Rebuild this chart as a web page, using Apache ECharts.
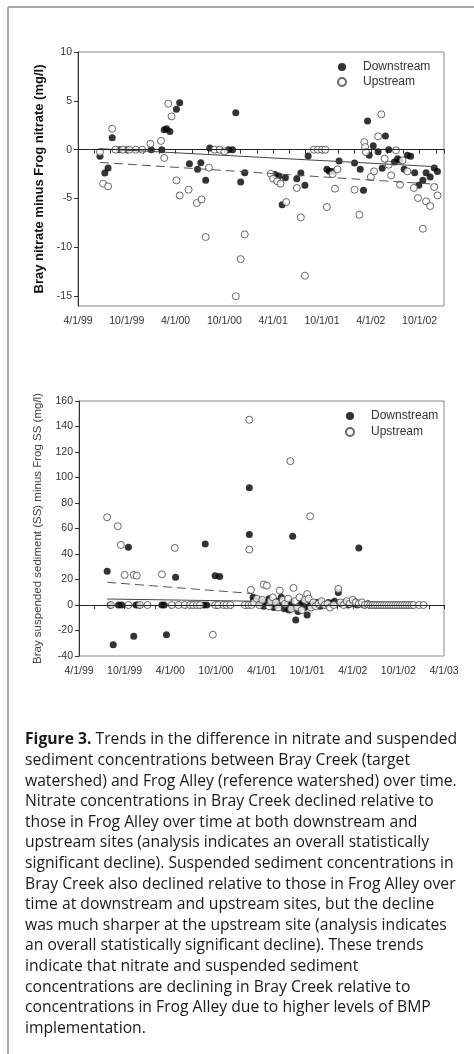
<!DOCTYPE html>
<html><head><meta charset="utf-8">
<script src="https://cdn.jsdelivr.net/npm/echarts@6/dist/echarts.min.js"></script>
<style>html,body{margin:0;padding:0;background:#fff}#c{width:474px;height:1054px}</style>
</head><body><div id="c"></div>
<script>
// x values are months since 4/1/99
const xTickLabels1 = ['4/1/99','10/1/99','4/1/00','10/1/00','4/1/01','10/1/01','4/1/02','10/1/02'];
const xTickLabels2 = ['4/1/99','10/1/99','4/1/00','10/1/00','4/1/01','10/1/01','4/1/02','10/1/02','4/1/03'];
const yTicks1 = [-15,-10,-5,0,5,10];

const nitrateDown = [[2.7,-0.68],[3.3,-2.39],[3.7,-1.88],[4.2,1.22],[5.1,0],[6.0,0],[9.0,0],[10.3,0],[10.6,2.05],[10.9,2.15],[11.3,1.85],[12.1,4.13],[12.5,4.81],[13.7,-1.43],[14.7,-2.01],[15.1,-1.33],[15.7,-3.14],[16.2,0.17],[18.5,0],[19.0,0],[19.4,3.79],[20.0,-3.31],[20.5,-2.35],[24.2,-2.53],[24.7,-2.7],[25.1,-5.63],[25.5,-2.87],[26.9,-2.97],[27.4,-2.39],[27.9,-3.65],[28.3,-0.65],[30.6,-2.01],[30.9,-2.2],[31.2,-2.22],[32.1,-1.16],[34.0,-1.37],[34.7,-2.01],[35.1,-4.16],[35.6,2.94],[35.8,-0.58],[36.3,0.4],[36.9,-0.2],[37.4,-1.9],[37.8,1.4],[38.2,0],[38.9,-1.26],[39.3,-0.92],[39.6,-1.09],[40.1,-2.01],[40.5,-0.58],[40.9,-0.68],[41.4,-2.35],[41.9,-3.65],[42.4,-3.14],[42.8,-2.35],[43.3,-2.8],[43.8,-1.88],[44.2,-2.22]];
const nitrateUp = [[2.7,-0.24],[3.1,-3.48],[3.7,-3.75],[4.2,2.15],[4.6,0],[5.5,0],[6.3,0],[7.1,0],[7.9,0],[8.9,0.61],[10.2,0.9],[10.6,-0.85],[11.1,4.71],[11.5,3.41],[12.1,-3.14],[12.5,-4.68],[13.6,-4.1],[14.6,-5.46],[15.2,-5.09],[15.7,-8.94],[16.1,-1.84],[16.8,0],[17.4,0],[18.0,-0.17],[19.4,-15.0],[20.0,-11.2],[20.5,-8.67],[23.7,-2.46],[24.0,-2.97],[24.5,-3.24],[24.9,-3.48],[25.6,-5.36],[26.9,-3.92],[27.4,-6.93],[27.9,-12.9],[29.0,0],[29.5,0],[30.0,0],[30.4,0],[30.6,-5.87],[31.3,-2.5],[31.6,-3.99],[31.9,-2.01],[34.0,-4.1],[34.6,-6.66],[35.2,0.78],[35.3,0.27],[35.4,-0.24],[36.0,-2.8],[36.4,-2.22],[36.9,1.37],[37.3,3.62],[37.7,-0.92],[38.2,-1.54],[38.5,-2.63],[39.1,-0.07],[39.6,-3.58],[39.9,-1.09],[40.5,-2.22],[41.3,-3.92],[41.8,-4.95],[42.4,-8.09],[42.8,-5.29],[43.3,-5.77],[43.8,-3.82],[44.2,-4.68]];
const nitrateTrendDown = [[2.7,0.1],[44.2,-1.75]];
const nitrateTrendUp = [[2.7,-1.3],[44.2,-3.55]];

const ssDown = [[3.7,26.4],[4.1,0],[4.5,-31.2],[5.2,0],[5.6,0],[6.5,45.3],[7.2,-24.6],[7.5,0],[7.8,0],[10.9,0],[11.2,0],[11.5,-23.3],[12.7,21.7],[16.4,0],[16.6,47.9],[16.8,0],[17.9,23.0],[18.5,22.3],[22.4,91.9],[22.4,55.2],[22.9,6.0],[23.0,3.5],[23.2,2],[23.5,4],[23.8,1],[24.0,3],[24.3,-1],[24.6,2],[25.0,5],[25.3,1],[25.6,-2],[26.0,3],[26.3,0],[26.6,6],[27.0,-3],[27.3,1],[27.6,-4],[27.9,2],[28.1,53.9],[28.2,-2],[28.5,-11.8],[28.8,-5],[29.1,0],[29.4,3],[29.7,-2],[30.0,-7.9],[30.3,-1],[30.6,1],[31.0,0],[31.3,2],[31.7,-1],[32.0,1],[32.4,0],[32.8,2],[33.2,1],[33.6,3],[34.1,9.9],[34.5,1],[35.0,2],[35.4,0],[35.8,1],[36.2,3],[36.6,0],[36.8,44.8],[37.0,1],[37.5,0],[38.0,1],[38.5,0],[39.0,0],[39.6,0]];
const ssUp = [[3.7,68.8],[4.2,0],[5.1,61.8],[5.5,47.1],[6.0,23.6],[6.5,0],[7.2,23.6],[7.6,23.0],[8.0,0],[9.0,0],[10.9,24.1],[12.2,0],[12.6,44.8],[13.1,0],[13.9,0],[14.6,0],[15.0,0],[15.5,0],[15.9,0],[17.6,-23.3],[17.9,0],[18.3,0],[19.0,0],[19.4,0],[19.9,0],[21.8,0],[22.3,0],[22.4,145.3],[22.4,43.5],[22.6,11.8],[22.7,0],[23.0,2],[23.4,5],[23.7,0],[24.1,4],[24.3,16],[24.7,15.2],[25.0,-1],[25.2,3],[25.5,6],[25.9,2],[26.2,-2],[26.4,11.3],[26.8,4],[27.1,1],[27.5,5],[27.8,112.8],[27.9,-3],[28.2,13.4],[28.4,3],[28.7,-2],[29.0,6],[29.3,-4],[29.7,4],[30.0,8.6],[30.2,5],[30.4,69.6],[30.5,-2],[30.8,2],[31.1,-1],[31.5,1],[31.9,3],[32.3,0],[32.7,1],[33.0,-2],[33.5,0],[34.1,12.6],[34.4,2],[34.8,0],[35.2,3],[35.6,1],[36.0,4],[36.4,2],[36.8,1],[37.2,2],[37.6,0],[38.0,0.5],[38.3,0],[38.6,0],[38.9,0],[39.2,0],[39.5,0],[39.8,0],[40.1,0],[40.4,0],[40.7,0],[41.0,0],[41.3,0],[41.6,0],[41.9,0],[42.2,0],[42.5,0],[42.8,0],[43.1,0],[43.4,0],[43.7,0],[44.0,0],[44.7,0],[45.3,0]];
const ssTrendDown = [[3.7,4.7],[22.8,3.0]];
const ssTrendUp = [[3.7,17.8],[22.8,9.0]];

const captionLines = [
 '{b|Figure 3.} Trends in the difference in nitrate and suspended',
 'sediment concentrations between Bray Creek (target',
 'watershed) and Frog Alley (reference watershed) over time.',
 'Nitrate concentrations in Bray Creek declined relative to',
 'those in Frog Alley over time at both downstream and',
 'upstream sites (analysis indicates an overall statistically',
 'significant decline). Suspended sediment concentrations in',
 'Bray Creek also declined relative to those in Frog Alley over',
 'time at downstream and upstream sites, but the decline',
 'was much sharper at the upstream site (analysis indicates',
 'an overall statistically significant decline). These trends',
 'indicate that nitrate and suspended sediment',
 'concentrations are declining in Bray Creek relative to',
 'concentrations in Frog Alley due to higher levels of BMP',
 'implementation.'
];

const FONT = 'Liberation Sans, Arial, sans-serif';
const CAPFONT = 'Open Sans, sans-serif';
const CAPSIZE = 15.7;
const tickLbl = {fontFamily: FONT, fontSize: 10.5, color: '#333'};

function xAxisCfg(gi, max, labels){
  return {type:'value', gridIndex:gi, min:0, max:max, interval:2,
    axisLine:{lineStyle:{color:'#333', width:1}},
    axisTick:{length:4, lineStyle:{color:'#333'}},
    splitLine:{show:false},
    axisLabel:Object.assign({margin:10, formatter:v => (v % 6 === 0 ? (labels[v/6] || '') : '')}, tickLbl)};
}
const downStyle = {color:'#000', borderColor:'#000', borderWidth:0};
const upStyle = {color:'#fff', borderColor:'#444', borderWidth:1};

const chart = echarts.init(document.getElementById('c'), null, {renderer:'canvas'});
chart.setOption({
  animation:false,
  backgroundColor:'#fff',
  grid:[
    {left:78, top:52, width:366, height:254, show:true, borderColor:'#888', borderWidth:1, backgroundColor:'transparent'},
    {left:79, top:401, width:365, height:255, show:true, borderColor:'#888', borderWidth:1, backgroundColor:'transparent'}
  ],
  xAxis:[xAxisCfg(0,45,xTickLabels1), xAxisCfg(1,48,xTickLabels2)],
  yAxis:[
    {type:'value', gridIndex:0, min:-16, max:10,
     name:'Bray nitrate minus Frog nitrate (mg/l)', nameLocation:'middle', nameGap:31, nameRotate:90,
     nameTextStyle:{fontFamily:FONT, fontSize:13, fontWeight:'bold', color:'#111'},
     axisLine:{show:true, lineStyle:{color:'#333'}},
     axisTick:{show:true, length:4, customValues:yTicks1, lineStyle:{color:'#333'}},
     axisLabel:Object.assign({margin:6, customValues:yTicks1}, tickLbl),
     splitLine:{show:false}},
    {type:'value', gridIndex:1, min:-40, max:160, interval:20,
     name:'Bray suspended sediment (SS) minus Frog SS (mg/l)', nameLocation:'middle', nameGap:35, nameRotate:90,
     nameTextStyle:{fontFamily:FONT, fontSize:11.5, color:'#444'},
     axisLine:{show:true, lineStyle:{color:'#333'}},
     axisTick:{show:true, length:4, lineStyle:{color:'#333'}},
     axisLabel:Object.assign({margin:6}, tickLbl),
     splitLine:{show:false}}
  ],
  legend:[
    {data:['Downstream','Upstream'], orient:'vertical', left:337, top:61, padding:0,
     itemWidth:32, itemHeight:8, itemGap:3, icon:'circle',
     textStyle:{fontFamily:FONT, fontSize:12, color:'#333'}},
    {data:['Downstream','Upstream'], orient:'vertical', left:345, top:410, padding:0,
     itemWidth:32, itemHeight:8, itemGap:4, icon:'circle',
     textStyle:{fontFamily:FONT, fontSize:12, color:'#333'}}
  ],
  series:[
    {type:'line', xAxisIndex:0, yAxisIndex:0, data:nitrateTrendDown, symbol:'none', silent:true,
     lineStyle:{color:'#444', width:1, type:'solid'},
     markLine:{silent:true, symbol:'none', label:{show:false}, lineStyle:{color:'#222', width:1, type:'solid'}, data:[{yAxis:0}]}},
    {type:'line', xAxisIndex:0, yAxisIndex:0, data:nitrateTrendUp, symbol:'none', silent:true,
     lineStyle:{color:'#555', width:1, type:[9,5]}},
    {name:'Downstream', type:'scatter', xAxisIndex:0, yAxisIndex:0, data:nitrateDown, symbol:'circle', symbolSize:7, itemStyle:downStyle},
    {name:'Upstream', type:'scatter', xAxisIndex:0, yAxisIndex:0, data:nitrateUp, symbol:'circle', symbolSize:7, itemStyle:upStyle},
    {type:'line', xAxisIndex:1, yAxisIndex:1, data:ssTrendDown, symbol:'none', silent:true,
     lineStyle:{color:'#444', width:1, type:'solid'},
     markLine:{silent:true, symbol:'none', label:{show:false}, lineStyle:{color:'#222', width:1, type:'solid'}, data:[{yAxis:0}]}},
    {type:'line', xAxisIndex:1, yAxisIndex:1, data:ssTrendUp, symbol:'none', silent:true,
     lineStyle:{color:'#555', width:1, type:[9,5]}},
    {name:'Downstream', type:'scatter', xAxisIndex:1, yAxisIndex:1, data:ssDown, symbol:'circle', symbolSize:7, itemStyle:downStyle},
    {name:'Upstream', type:'scatter', xAxisIndex:1, yAxisIndex:1, data:ssUp, symbol:'circle', symbolSize:7, itemStyle:upStyle}
  ],
  graphic:[
    {type:'line', silent:true, shape:{x1:8, y1:7, x2:474, y2:7}, style:{stroke:'#a8a8a8', lineWidth:2}},
    {type:'line', silent:true, shape:{x1:8, y1:7, x2:8, y2:1054}, style:{stroke:'#a8a8a8', lineWidth:2}}
  ].concat(captionLines.map((t,i) => ({
    type:'text', silent:true, x:25, y:740 + i*20.6,
    style:{text:t, fontFamily:CAPFONT, fontSize:CAPSIZE, fill:'#1a1a1a', verticalAlign:'middle', align:'left',
      rich:{b:{fontFamily:CAPFONT, fontSize:CAPSIZE, fontWeight:'bold', fill:'#1a1a1a'}}}
  })))
});
</script></body></html>
